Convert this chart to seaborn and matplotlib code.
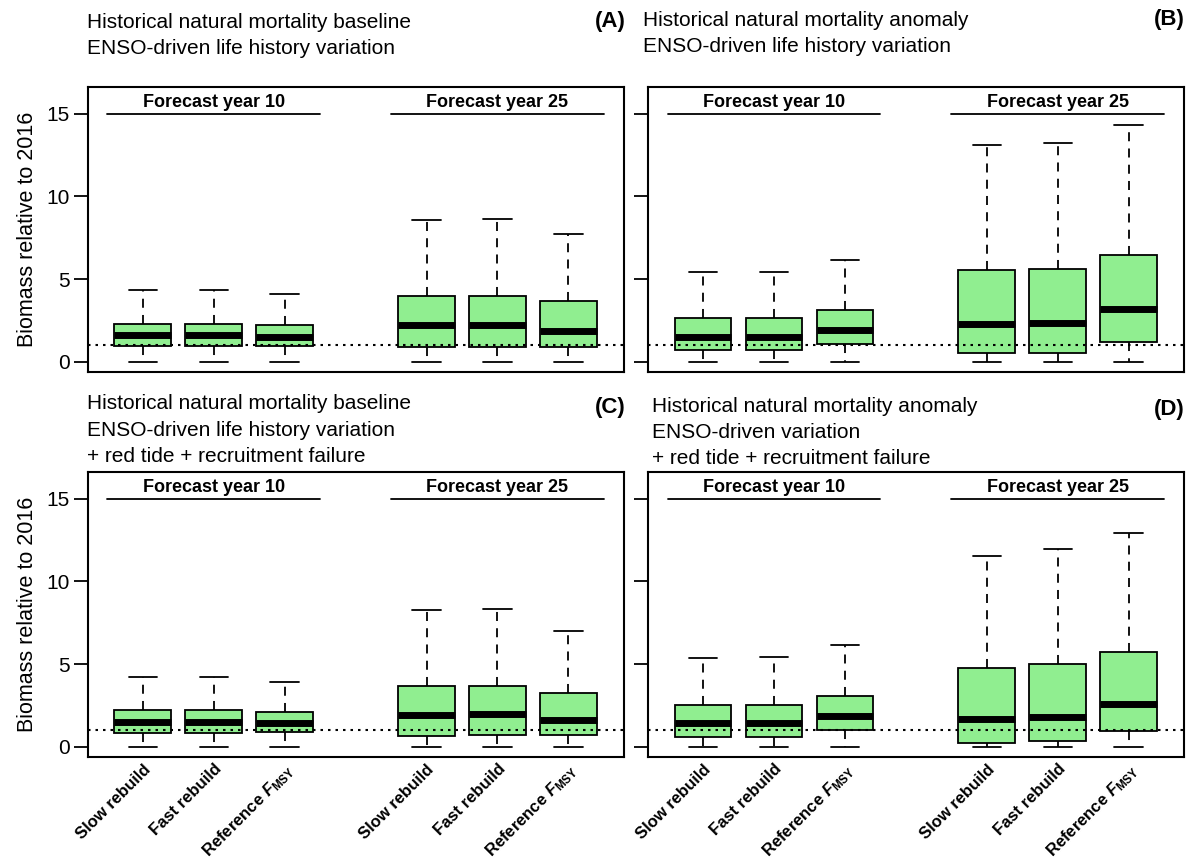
import numpy as np
import pandas as pd
import matplotlib
matplotlib.use("Agg")
import matplotlib.pyplot as plt
import seaborn as sns

# ---------------- data ----------------
strategies = ["Slow rebuild", "Fast rebuild", r"Reference $F_{\mathrm{MSY}}$"]
year_labels = ["Forecast year 10", "Forecast year 25"]
positions = [1, 2, 3, 5, 6, 7]

# Panel A
a_lo = [0, 0, 0, 0, 0, 0]
a_q1 = [0.93, 0.93, 0.97, 0.89, 0.89, 0.89]
a_med = [1.59, 1.59, 1.51, 2.20, 2.20, 1.88]
a_q3 = [2.30, 2.30, 2.22, 4.00, 4.00, 3.67]
a_hi = [4.34, 4.34, 4.10, 8.60, 8.63, 7.75]

# Panel B
b_lo = [0, 0, 0, 0, 0, 0]
b_q1 = [0.73, 0.73, 1.09, 0.53, 0.53, 1.21]
b_med = [1.51, 1.51, 1.90, 2.28, 2.36, 3.17]
b_q3 = [2.62, 2.62, 3.13, 5.57, 5.61, 6.46]
b_hi = [5.41, 5.41, 6.14, 13.10, 13.26, 14.34]

# Panel C
c_lo = [0, 0, 0, 0, 0, 0]
c_q1 = [0.81, 0.81, 0.91, 0.65, 0.69, 0.73]
c_med = [1.47, 1.47, 1.43, 1.92, 1.96, 1.64]
c_q3 = [2.24, 2.24, 2.12, 3.69, 3.69, 3.25]
c_hi = [4.24, 4.24, 3.92, 8.30, 8.32, 6.98]

# Panel D
d_lo = [0, 0, 0, 0, 0, 0]
d_q1 = [0.61, 0.61, 1.01, 0.24, 0.35, 0.95]
d_med = [1.41, 1.41, 1.84, 1.68, 1.80, 2.56]
d_q3 = [2.52, 2.52, 3.07, 4.74, 4.98, 5.75]
d_hi = [5.35, 5.41, 6.18, 11.51, 11.95, 12.94]

panel_titles = {
    "A": ["Historical natural mortality baseline", "ENSO-driven life history variation"],
    "B": ["Historical natural mortality anomaly", "ENSO-driven life history variation"],
    "C": ["Historical natural mortality baseline", "ENSO-driven life history variation",
          "+ red tide + recruitment failure"],
    "D": ["Historical natural mortality anomaly", "ENSO-driven variation",
          "+ red tide + recruitment failure"],
}

panels = {
    "A": (a_lo, a_q1, a_med, a_q3, a_hi),
    "B": (b_lo, b_q1, b_med, b_q3, b_hi),
    "C": (c_lo, c_q1, c_med, c_q3, c_hi),
    "D": (d_lo, d_q1, d_med, d_q3, d_hi),
}

rows = []
for key, stats in panels.items():
    for i, p in enumerate(positions):
        for arr in stats:
            rows.append((key, p, arr[i]))
df = pd.DataFrame(rows, columns=["panel", "pos", "value"])

# ---------------- style ----------------
sns.set_theme(style="white")
plt.rcParams["font.family"] = ["Liberation Sans", "DejaVu Sans"]
plt.rcParams["mathtext.fontset"] = "custom"
plt.rcParams["mathtext.it"] = "Liberation Sans:bold:italic"
plt.rcParams["mathtext.rm"] = "Liberation Sans:bold"
plt.rcParams["mathtext.bf"] = "Liberation Sans:bold"
for k in ["text.color", "axes.labelcolor", "xtick.color", "ytick.color",
          "axes.edgecolor"]:
    plt.rcParams[k] = "black"

W, H = 1188, 861
fig = plt.figure(figsize=(W / 100, H / 100), dpi=100)


def rect(left, top, right, bottom):
    return [left / W, 1 - bottom / H, (right - left) / W, (bottom - top) / H]


axes_px = {
    "A": (87.5, 86.7, 623.7, 372.3),
    "B": (647.7, 86.7, 1184, 372.3),
    "C": (87.5, 471.7, 623.7, 757.3),
    "D": (647.7, 471.7, 1184, 757.3),
}

title_px = {
    "A": (87, [23, 49]),
    "B": (643, [20, 46]),
    "C": (87, [404, 430, 456]),
    "D": (652, [407, 433, 459]),
}
label_px = {"A": (626, 22), "B": (1185, 20), "C": (626, 407), "D": (1185, 410)}

for key in ["A", "B", "C", "D"]:
    ax = fig.add_axes(rect(*axes_px[key]))
    sub = df[df["panel"] == key]
    sns.boxplot(
        data=sub, x="pos", y="value", native_scale=True, whis=(0, 100),
        width=0.8, color="#90EE90", saturation=1, linecolor="black",
        linewidth=1.3, fliersize=0,
        medianprops=dict(color="black", linewidth=5, solid_capstyle="butt"),
        whiskerprops=dict(linestyle=(0, (5, 4))),
        ax=ax,
    )
    ax.axhline(1, color="black", lw=1.5, ls=(0, (1.2, 2.4)), zorder=10)
    # forecast headers
    ax.plot([0.5, 3.5], [15, 15], color="black", lw=1.3)
    ax.plot([4.5, 7.5], [15, 15], color="black", lw=1.3)
    ax.text(2, 15.7, year_labels[0], ha="center", va="center",
            fontweight="bold", fontsize=13)
    ax.text(6, 15.7, year_labels[1], ha="center", va="center",
            fontweight="bold", fontsize=13)

    ax.set_xlim(0.22, 7.78)
    ax.set_ylim(-0.64, 16.64)
    ax.set_yticks([0, 5, 10, 15])
    ax.tick_params(axis="y", direction="out", length=10, width=1.3,
                   labelsize=15, pad=3, left=True)
    ax.set_xlabel("")
    if key in ("A", "C"):
        ax.set_ylabel("Biomass relative to 2016", fontsize=15.5, labelpad=6)
    else:
        ax.set_ylabel("")
        ax.set_yticklabels([])
    if key in ("C", "D"):
        ax.set_xticks(positions)
        ax.set_xticklabels(strategies * 2, rotation=45, ha="right",
                           rotation_mode="anchor", fontweight="bold",
                           fontsize=12)
        ax.tick_params(axis="x", length=0, pad=3)
    else:
        ax.set_xticks([])
    for s in ax.spines.values():
        s.set_visible(True)
        s.set_color("black")
        s.set_linewidth(1.5)

    tx, tys = title_px[key]
    for line, ty in zip(panel_titles[key], tys):
        fig.text(tx / W, 1 - ty / H, line, ha="left", va="center", fontsize=15)
    lx, ly = label_px[key]
    fig.text(lx / W, 1 - ly / H, f"({key})", ha="right", va="center",
             fontsize=16, fontweight="bold")

fig.savefig("out.png", dpi=100)
